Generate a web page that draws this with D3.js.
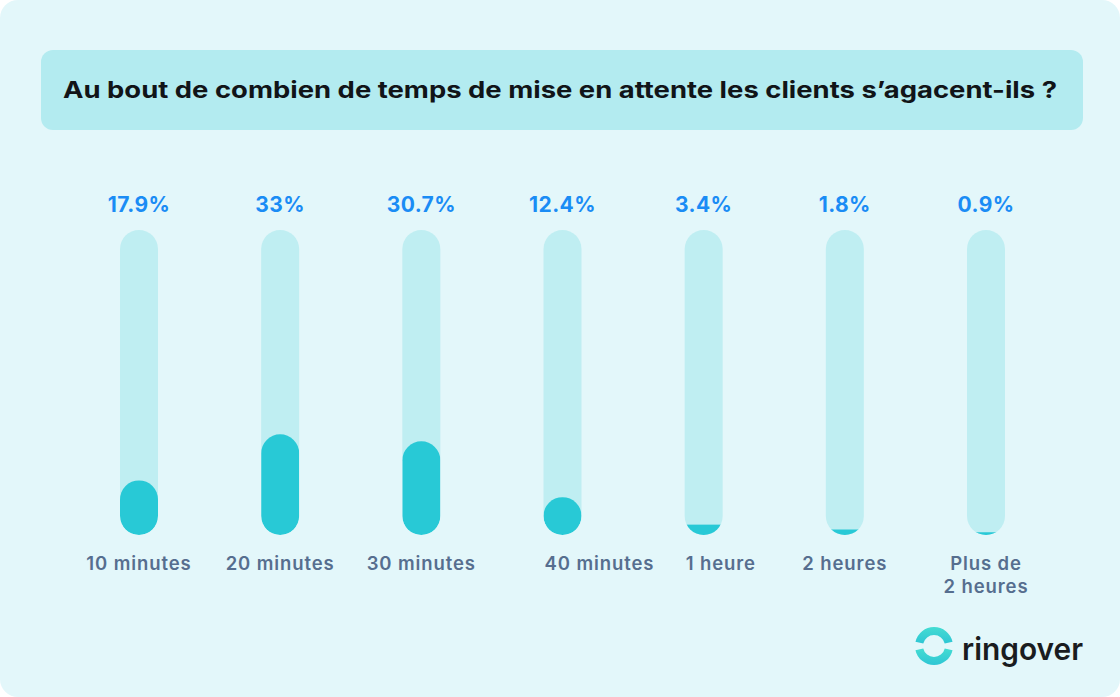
<!DOCTYPE html>
<html><head><meta charset="utf-8">
<script src="https://cdn.jsdelivr.net/npm/d3@7/dist/d3.min.js"></script>
<style>html,body{margin:0;padding:0;background:#fff;}svg{display:block;}</style>
</head><body>
<script>
const categories = ["10 minutes","20 minutes","30 minutes","40 minutes","1 heure","2 heures","Plus de|2 heures"];
const values = [17.9, 33, 30.7, 12.4, 3.4, 1.8, 0.9];
const valueLabels = ["17.9%","33%","30.7%","12.4%","3.4%","1.8%","0.9%"];
const labelAnchors = ["middle","middle","middle","start","start","middle","middle"];
const title = "Au bout de combien de temps de mise en attente les clients s\u2019agacent-ils ?";

const W = 1120, H = 697;
const font = "Inter, 'Open Sans', sans-serif";
const svg = d3.select("body").append("svg").attr("width", W).attr("height", H);

svg.append("rect").attr("width", W).attr("height", H).attr("rx", 18).attr("fill", "#e3f7fa");
svg.append("rect").attr("x", 41).attr("y", 50).attr("width", 1042).attr("height", 80).attr("rx", 12).attr("fill", "#b3ebf0");
const t = svg.append("text").attr("x", 63).attr("y", 98).attr("fill", "#111418")
  .attr("font-family", font).attr("font-weight", 700).attr("font-size", 23).text(title);
t.attr("textLength", 994).attr("lengthAdjust", "spacingAndGlyphs");

const barW = 38;
const x = d3.scalePoint().domain(categories).range([139, 986]);
const y = d3.scaleLinear().domain([0, 100]).range([535, 230]);

const defs = svg.append("defs");
const g = svg.append("g");
categories.forEach((c, i) => {
  const cx = x(c), left = cx - barW / 2;
  const id = "clip" + i;
  defs.append("clipPath").attr("id", id).append("rect")
    .attr("x", left).attr("y", y(100)).attr("width", barW).attr("height", y(0) - y(100)).attr("rx", barW / 2);
  g.append("rect").attr("x", left).attr("y", y(100)).attr("width", barW).attr("height", y(0) - y(100))
    .attr("rx", barW / 2).attr("fill", "#bfeef2");
  const h = y(0) - y(values[i]);
  g.append("rect").attr("clip-path", `url(#${id})`)
    .attr("x", left).attr("y", y(values[i])).attr("width", barW).attr("height", h)
    .attr("rx", h >= barW * 0.75 ? Math.min(barW / 2, h / 2) : 0).attr("fill", "#28c9d6");
  g.append("text").attr("x", cx).attr("y", 212).attr("text-anchor", "middle")
    .attr("font-family", font).attr("font-weight", 700).attr("font-size", 21).attr("letter-spacing", 0.4)
    .attr("fill", "#1a8cf5")
    .text(valueLabels[i]);
  const lines = c.split("|");
  const anchor = labelAnchors[i];
  const lt = g.append("text").attr("text-anchor", anchor)
    .attr("font-family", font).attr("font-weight", 600).attr("font-size", 18.5).attr("letter-spacing", 0.9)
    .attr("fill", "#566e8f");
  lines.forEach((ln, j) => {
    lt.append("tspan").attr("x", anchor === "start" ? left + 1 : cx).attr("y", 570 + j * 23).text(ln);
  });
});

// logo
const logo = svg.append("g").attr("transform", "translate(934,646)");
const grad = defs.append("linearGradient").attr("id", "lg").attr("x1", 0).attr("y1", 0).attr("x2", 0).attr("y2", 1);
grad.append("stop").attr("offset", 0).attr("stop-color", "#44dcd2");
grad.append("stop").attr("offset", 1).attr("stop-color", "#2ec6d4");
const arc = d3.arc().innerRadius(11).outerRadius(19);
const gap = 0.22;
logo.append("path").attr("d", arc({startAngle: -Math.PI/2 + gap, endAngle: Math.PI/2 - gap})).attr("fill", "url(#lg)");
logo.append("path").attr("d", arc({startAngle: Math.PI/2 + gap, endAngle: 3*Math.PI/2 - gap})).attr("fill", "url(#lg)");
svg.append("text").attr("x", 962).attr("y", 660).attr("font-family", font).attr("font-weight", 600)
  .attr("font-size", 31).attr("fill", "#1a1c20").attr("textLength", 121).attr("lengthAdjust", "spacingAndGlyphs").text("ringover");
</script>
</body></html>
